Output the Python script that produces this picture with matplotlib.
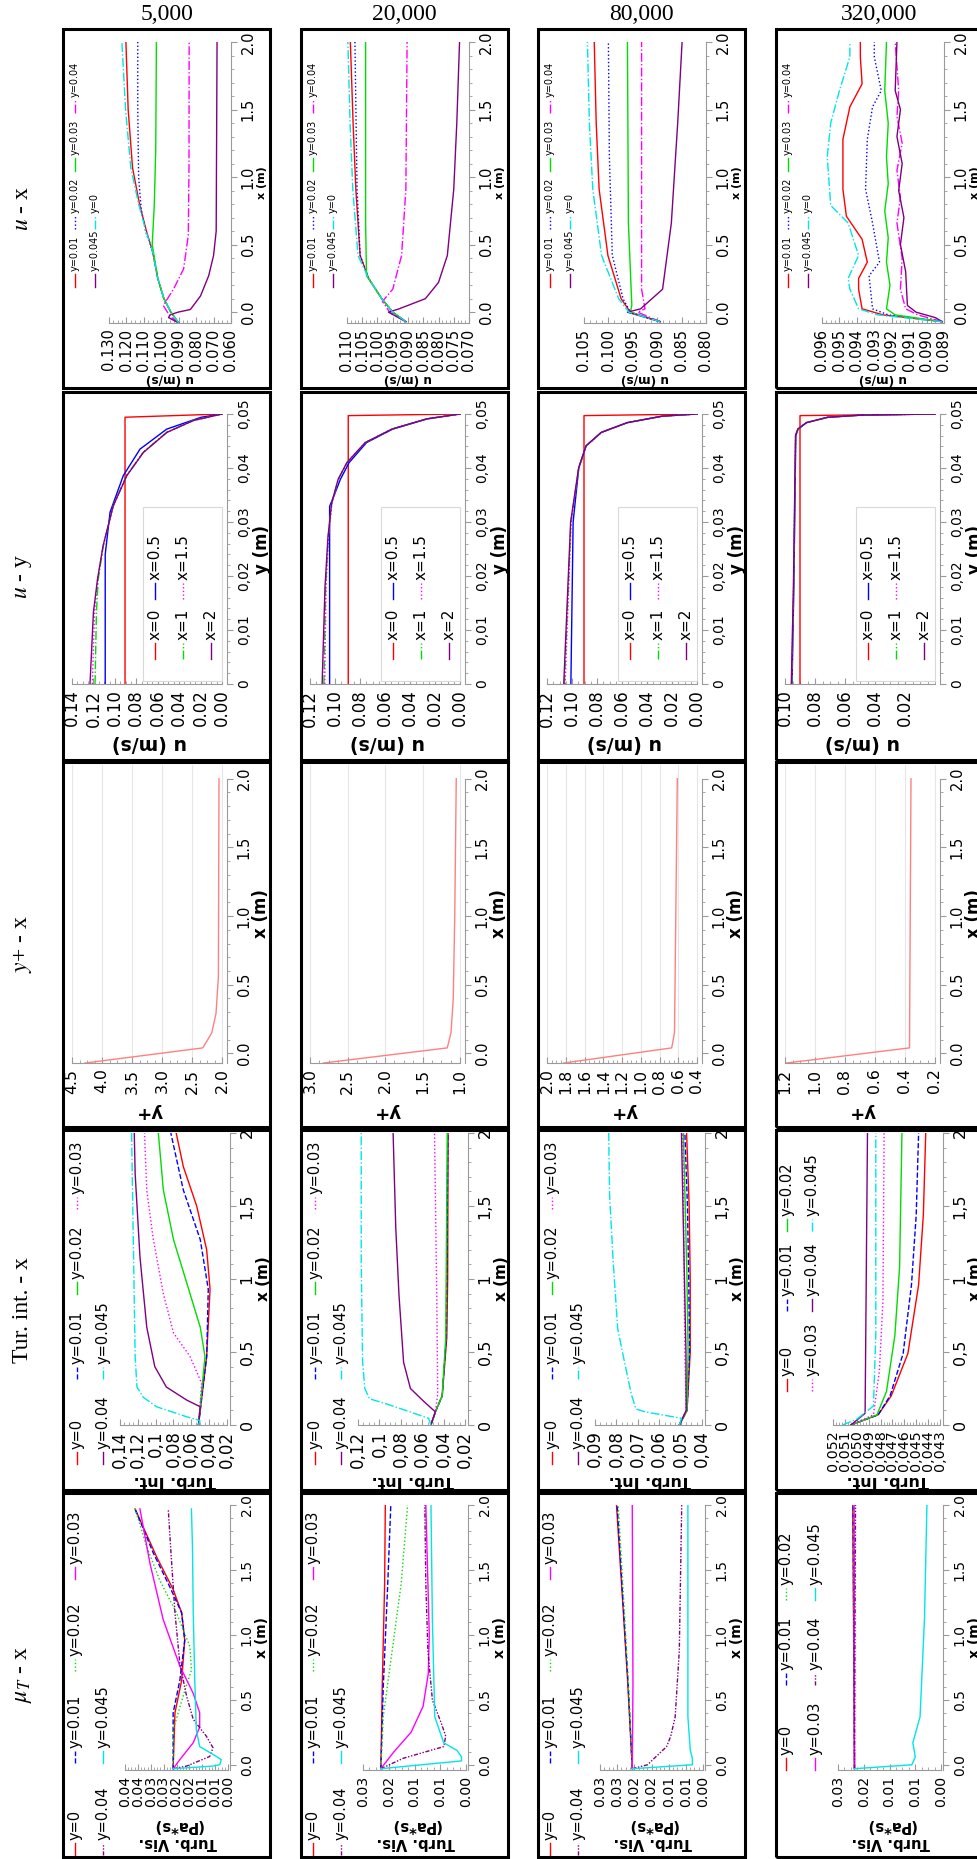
import numpy as np
import matplotlib
matplotlib.use("Agg")
import matplotlib.pyplot as plt
from matplotlib.lines import Line2D
from matplotlib.patches import Rectangle
from matplotlib.ticker import FixedLocator, MultipleLocator

plt.rcParams['mathtext.fontset'] = 'stix'
plt.rcParams['font.family'] = 'DejaVu Sans'

W, H = 977, 1859

# ---------------- DATA ----------------
RE_NUMBERS = ['5,000', '20,000', '80,000', '320,000']
ROW_TITLES = [r'$u$ - x', r'$u$ - y', r'$y$+ - x', 'Tur. int. - x', r'$\mu_T$ - x']

# u - x : (x [m], u [m/s]) at several heights y
UX_ORDER = ['y=0.01', 'y=0.02', 'y=0.03', 'y=0.04', 'y=0.045', 'y=0']
UX_5000 = {
    'y=0.01': [(-0.08, 0.090), (0.0, 0.0945), (0.1, 0.0985), (0.25, 0.102), (0.45, 0.105), (0.6, 0.1085),
               (0.8, 0.1125), (1.07, 0.1165), (1.5, 0.119), (2.0, 0.1203)],
    'y=0.02': [(-0.08, 0.090), (0.0, 0.0945), (0.1, 0.0985), (0.25, 0.102), (0.45, 0.105), (0.6, 0.109),
               (0.76, 0.1115), (1.0, 0.113), (1.5, 0.1135), (2.0, 0.1135)],
    'y=0.03': [(-0.08, 0.090), (0.0, 0.0945), (0.1, 0.0985), (0.25, 0.102), (0.5, 0.1052), (0.8, 0.104),
               (1.2, 0.1032), (2.0, 0.1028)],
    'y=0.04': [(-0.08, 0.090), (-0.03, 0.095), (0.05, 0.0989), (0.17, 0.093), (0.32, 0.0872), (0.57, 0.0845),
               (1.07, 0.0841), (2.0, 0.084)],
    'y=0.045': [(-0.08, 0.090), (-0.04, 0.0958), (-0.02, 0.095), (0.0, 0.0905), (0.02, 0.0833), (0.12, 0.0775),
                (0.27, 0.0728), (0.42, 0.070), (0.6, 0.0685), (2.0, 0.068)],
    'y=0': [(-0.08, 0.090), (0.0, 0.0945), (0.1, 0.0985), (0.25, 0.102), (0.45, 0.105), (0.6, 0.1088),
            (0.8, 0.113), (1.07, 0.1175), (1.5, 0.1205), (2.0, 0.1226)],
}
UX_20000 = {
    'y=0.01': [(-0.07, 0.0907), (0.0, 0.095), (0.1, 0.0986), (0.25, 0.1029), (0.42, 0.1057), (0.91, 0.1071),
               (1.4, 0.108), (2.0, 0.1089)],
    'y=0.02': [(-0.07, 0.0907), (0.0, 0.095), (0.1, 0.0986), (0.25, 0.1029), (0.42, 0.1057), (0.91, 0.1067),
               (2.0, 0.1074)],
    'y=0.03': [(-0.07, 0.0907), (0.0, 0.095), (0.1, 0.0986), (0.27, 0.1036), (0.66, 0.1039), (2.0, 0.1039)],
    'y=0.04': [(-0.07, 0.0907), (0.0, 0.096), (0.08, 0.0984), (0.17, 0.095), (0.42, 0.0921), (0.91, 0.0907),
               (2.0, 0.0903)],
    'y=0.045': [(-0.07, 0.0907), (0.0, 0.0964), (0.025, 0.0929), (0.1, 0.0843), (0.22, 0.080), (0.42, 0.0771),
                (0.91, 0.075), (1.4, 0.074), (2.0, 0.0731)],
    'y=0': [(-0.07, 0.0907), (0.0, 0.095), (0.1, 0.0986), (0.25, 0.1029), (0.42, 0.1064), (0.91, 0.1081),
            (1.4, 0.109), (2.0, 0.1097)],
}
UX_80000 = {
    'y=0.01': [(-0.07, 0.0894), (0.0, 0.0955), (0.1, 0.0974), (0.42, 0.1001), (0.91, 0.1019), (1.4, 0.1025),
               (2.0, 0.1029)],
    'y=0.02': [(-0.07, 0.0894), (0.0, 0.0955), (0.1, 0.097), (0.42, 0.0992), (1.15, 0.0998), (2.0, 0.100)],
    'y=0.03': [(-0.07, 0.0894), (0.0, 0.0955), (0.05, 0.0952), (0.66, 0.0959), (2.0, 0.0961)],
    'y=0.04': [(-0.07, 0.0894), (0.0, 0.094), (0.025, 0.0925), (0.17, 0.0932), (2.0, 0.0932)],
    'y=0.045': [(-0.07, 0.0894), (0.0, 0.0961), (0.025, 0.0934), (0.17, 0.0889), (0.66, 0.0871), (1.4, 0.0858),
                (2.0, 0.0849)],
    'y=0': [(-0.07, 0.0894), (0.0, 0.0958), (0.1, 0.0979), (0.42, 0.1014), (0.91, 0.1032), (1.4, 0.1039),
            (2.0, 0.1043)],
}
UX_320000 = {
    'y=0.01': [(-0.07, 0.0891), (-0.02, 0.0925), (0.025, 0.0937), (0.17, 0.0939), (0.25, 0.0939), (0.37, 0.0934),
               (0.54, 0.0937), (0.71, 0.0946), (0.91, 0.0948), (1.28, 0.0948), (1.52, 0.0944), (1.69, 0.0937),
               (1.89, 0.0938), (2.0, 0.0938)],
    'y=0.02': [(-0.07, 0.0891), (-0.02, 0.0922), (0.025, 0.0931), (0.27, 0.0933), (0.37, 0.0927), (0.66, 0.0931),
               (0.91, 0.0935), (1.28, 0.0934), (1.52, 0.0931), (1.64, 0.0926), (1.89, 0.093), (2.0, 0.093)],
    'y=0.03': [(-0.07, 0.0891), (-0.02, 0.0918), (0.025, 0.0923), (0.2, 0.0921), (0.37, 0.0923), (0.55, 0.0922),
               (0.75, 0.0924), (0.95, 0.0922), (1.15, 0.0923), (1.4, 0.0922), (1.64, 0.0924), (2.0, 0.0923)],
    'y=0.04': [(-0.07, 0.0891), (-0.02, 0.0905), (0.025, 0.0912), (0.17, 0.0915), (0.4, 0.0914), (0.66, 0.0917),
               (0.85, 0.0915), (1.05, 0.0917), (1.25, 0.0914), (1.45, 0.0917), (1.64, 0.0916), (2.0, 0.0918)],
    'y=0.045': [(-0.07, 0.0891), (-0.04, 0.0895), (0.0, 0.0906), (0.05, 0.0911), (0.3, 0.0912), (0.5, 0.0915),
                (0.7, 0.0913), (0.9, 0.0916), (1.1, 0.0914), (1.3, 0.0917), (1.5, 0.0915), (1.64, 0.0918),
                (2.0, 0.0917)],
    'y=0': [(-0.07, 0.0891), (-0.02, 0.0928), (0.025, 0.0939), (0.17, 0.0944), (0.25, 0.0945), (0.42, 0.0939),
            (0.66, 0.0945), (0.79, 0.0955), (1.15, 0.0957), (1.4, 0.0955), (1.64, 0.095), (1.89, 0.0944),
            (2.0, 0.0944)],
}
UX_PANELS = [UX_5000, UX_20000, UX_80000, UX_320000]
UX_VLIM = [(0.060, 0.130), (0.070, 0.110), (0.080, 0.105), (0.089, 0.096)]
UX_VSTEP = [0.010, 0.005, 0.005, 0.001]
UX_VLABELS = [['0.130', '0.120', '0.110', '0.100', '0.090', '0.080', '0.070', '0.060'],
              ['0.110', '0.105', '0.100', '0.095', '0.090', '0.085', '0.080', '0.075', '0.070'],
              ['0.105', '0.100', '0.095', '0.090', '0.085', '0.080'],
              ['0.096', '0.095', '0.094', '0.093', '0.092', '0.091', '0.090', '0.089']]

# u - y : (y [m], u [m/s]) at several stations x
UY_ORDER = ['x=0', 'x=0.5', 'x=1', 'x=1.5', 'x=2']
UY_5000 = {
    'x=0': [(0.0, 0.0905), (0.0494, 0.0905), (0.05, 0.0)],
    'x=0.5': [(0.0, 0.109), (0.024, 0.109), (0.0318, 0.1045), (0.0386, 0.0921), (0.0435, 0.0765),
              (0.0472, 0.0516), (0.0494, 0.0195), (0.05, 0.0)],
    'x=1': [(0.0, 0.1185), (0.0133, 0.1172), (0.0194, 0.1155), (0.0256, 0.1108), (0.033, 0.1015),
            (0.0386, 0.089), (0.0429, 0.0735), (0.0466, 0.0516), (0.0488, 0.0268), (0.05, 0.0)],
    'x=1.5': [(0.0, 0.121), (0.0133, 0.119), (0.0194, 0.116), (0.0256, 0.1108), (0.033, 0.1015),
              (0.0386, 0.089), (0.0429, 0.0735), (0.0466, 0.0516), (0.0488, 0.0268), (0.05, 0.0)],
    'x=2': [(0.0, 0.1232), (0.0133, 0.120), (0.0194, 0.1162), (0.0256, 0.111), (0.033, 0.1015),
            (0.0386, 0.0888), (0.0429, 0.0733), (0.0466, 0.0514), (0.0488, 0.0266), (0.05, 0.0)],
}
UY_20000 = {
    'x=0': [(0.0, 0.0894), (0.0497, 0.0894), (0.05, 0.0)],
    'x=0.5': [(0.0, 0.1043), (0.0329, 0.1043), (0.0348, 0.1009), (0.0379, 0.0957), (0.041, 0.0887),
              (0.0447, 0.0748), (0.0472, 0.0539), (0.0491, 0.0261), (0.05, 0.0)],
    'x=1': [(0.0, 0.1089), (0.018, 0.1075), (0.0273, 0.1054), (0.0335, 0.1026), (0.0379, 0.0974),
            (0.041, 0.0904), (0.0447, 0.0758), (0.0472, 0.0545), (0.0491, 0.0265), (0.05, 0.0)],
    'x=1.5': [(0.0, 0.1082), (0.018, 0.1072), (0.0273, 0.1052), (0.0335, 0.1025), (0.0379, 0.0973),
              (0.041, 0.0903), (0.0447, 0.0757), (0.0472, 0.0544), (0.0491, 0.0264), (0.05, 0.0)],
    'x=2': [(0.0, 0.1103), (0.018, 0.108), (0.0273, 0.1056), (0.0335, 0.1027), (0.0379, 0.0975),
            (0.041, 0.0905), (0.0447, 0.0759), (0.0472, 0.0546), (0.0491, 0.0266), (0.05, 0.0)],
}
UY_80000 = {
    'x=0': [(0.0, 0.0904), (0.0497, 0.0904), (0.05, 0.0)],
    'x=0.5': [(0.0, 0.1009), (0.03, 0.0991), (0.04, 0.0946), (0.0441, 0.0887), (0.0466, 0.0765),
              (0.0484, 0.0557), (0.0496, 0.0278), (0.05, 0.0)],
    'x=1': [(0.0, 0.1061), (0.03, 0.1009), (0.04, 0.0946), (0.0441, 0.0887), (0.0466, 0.0765),
            (0.0484, 0.0557), (0.0496, 0.0278), (0.05, 0.0)],
    'x=1.5': [(0.0, 0.1055), (0.03, 0.1007), (0.04, 0.0945), (0.0441, 0.0886), (0.0466, 0.0764),
              (0.0484, 0.0556), (0.0496, 0.0277), (0.05, 0.0)],
    'x=2': [(0.0, 0.1066), (0.03, 0.1011), (0.04, 0.0947), (0.0441, 0.0888), (0.0466, 0.0766),
            (0.0484, 0.0558), (0.0496, 0.0279), (0.05, 0.0)],
}
UY_320000 = {
    'x=0': [(0.0, 0.090), (0.0497, 0.090), (0.05, 0.0)],
    'x=0.5': [(0.0, 0.0953), (0.018, 0.0941), (0.046, 0.0928), (0.0472, 0.0913), (0.0484, 0.0856),
              (0.0494, 0.0713), (0.0498, 0.0485), (0.05, 0.0)],
    'x=1': [(0.0, 0.0955), (0.018, 0.0942), (0.046, 0.0929), (0.0472, 0.0914), (0.0484, 0.0857),
            (0.0494, 0.0714), (0.0498, 0.0486), (0.05, 0.0)],
    'x=1.5': [(0.0, 0.0956), (0.018, 0.0943), (0.046, 0.0929), (0.0472, 0.0914), (0.0484, 0.0857),
              (0.0494, 0.0714), (0.0498, 0.0486), (0.05, 0.0)],
    'x=2': [(0.0, 0.0958), (0.018, 0.0944), (0.046, 0.0930), (0.0472, 0.0915), (0.0484, 0.0858),
            (0.0494, 0.0715), (0.0498, 0.0487), (0.05, 0.0)],
}
UY_PANELS = [UY_5000, UY_20000, UY_80000, UY_320000]
UY_VLIM = [(0.0, 0.14), (0.0, 0.12), (0.0, 0.12), (0.0, 0.10)]
UY_VSTEP = [0.02, 0.02, 0.02, 0.02]
UY_VLABELS = [['0.14', '0.12', '0.10', '0.08', '0.06', '0.04', '0.02', '0.00'],
              ['0.12', '0.10', '0.08', '0.06', '0.04', '0.02', '0.00'],
              ['0.12', '0.10', '0.08', '0.06', '0.04', '0.02', '0.00'],
              ['0.10', '0.08', '0.06', '0.04', '0.02']]

# y+ - x : (x [m], y+)
YP_ORDER = ['y+']
YP_5000 = {'y+': [(-0.07, 4.28), (0.04, 2.32), (0.15, 2.17), (0.29, 2.10), (0.56, 2.06), (2.0, 2.05)]}
YP_20000 = {'y+': [(-0.07, 2.82), (0.04, 1.17), (0.15, 1.12), (0.4, 1.09), (1.0, 1.07), (2.0, 1.05)]}
YP_80000 = {'y+': [(-0.07, 1.82), (0.04, 0.67), (0.15, 0.64), (2.0, 0.61)]}
YP_320000 = {'y+': [(-0.07, 1.19), (0.04, 0.37), (2.0, 0.36)]}
YP_PANELS = [YP_5000, YP_20000, YP_80000, YP_320000]
YP_VLIM = [(2.0, 4.5), (1.0, 3.0), (0.4, 2.0), (0.2, 1.2)]
YP_VSTEP = [0.5, 0.5, 0.2, 0.2]
YP_VLABELS = [['4.5', '4.0', '3.5', '3.0', '2.5', '2.0'],
              ['3.0', '2.5', '2.0', '1.5', '1.0'],
              ['2.0', '1.8', '1.6', '1.4', '1.2', '1.0', '0.8', '0.6', '0.4'],
              ['1.2', '1.0', '0.8', '0.6', '0.4', '0.2']]

# Turbulence intensity - x : (x [m], Turb. Int.)
TI_ORDER = ['y=0', 'y=0.01', 'y=0.02', 'y=0.03', 'y=0.04', 'y=0.045']
TI_5000 = {
    'y=0': [(0.0, 0.052), (0.47, 0.0428), (0.93, 0.039), (1.2, 0.0428), (1.5, 0.054), (1.77, 0.069), (2.0, 0.077)],
    'y=0.01': [(0.0, 0.052), (0.47, 0.0428), (0.93, 0.041), (1.27, 0.050), (1.61, 0.069), (2.0, 0.083)],
    'y=0.02': [(0.0, 0.052), (0.47, 0.0447), (0.67, 0.050), (0.97, 0.065), (1.27, 0.080), (1.61, 0.0914),
               (2.0, 0.097)],
    'y=0.03': [(0.0, 0.052), (0.285, 0.0484), (0.47, 0.0615), (0.63, 0.080), (0.9, 0.0914), (1.27, 0.1026),
               (1.61, 0.110), (2.0, 0.1125)],
    'y=0.04': [(0.0, 0.052), (0.125, 0.050), (0.17, 0.065), (0.26, 0.088), (0.40, 0.101), (0.67, 0.110),
               (1.15, 0.1176), (1.72, 0.123), (2.0, 0.124)],
    'y=0.045': [(0.0, 0.052), (0.03, 0.0503), (0.057, 0.0655), (0.125, 0.099), (0.19, 0.114), (0.26, 0.121),
                (0.47, 0.123), (2.0, 0.127)],
}
TI_20000 = {
    'y=0': [(0.0, 0.0519), (0.09, 0.0477), (0.2, 0.0413), (0.6, 0.037), (1.0, 0.0362), (2.0, 0.0358)],
    'y=0.01': [(0.0, 0.0519), (0.09, 0.0477), (0.2, 0.0413), (0.6, 0.0375), (2.0, 0.036)],
    'y=0.02': [(0.0, 0.0519), (0.09, 0.0477), (0.2, 0.0413), (0.6, 0.038), (2.0, 0.0366)],
    'y=0.03': [(0.0, 0.0519), (0.09, 0.0477), (0.21, 0.0455), (0.89, 0.0464), (2.0, 0.0485)],
    'y=0.04': [(0.0, 0.0519), (0.09, 0.0477), (0.16, 0.0583), (0.25, 0.071), (0.43, 0.0774), (0.89, 0.0817),
               (1.35, 0.0847), (2.0, 0.0872)],
    'y=0.045': [(0.0, 0.0519), (0.046, 0.054), (0.137, 0.0902), (0.18, 0.1094), (0.25, 0.1136), (0.43, 0.1157),
                (1.12, 0.117), (2.0, 0.117)],
}
TI_80000 = {
    'y=0': [(0.0, 0.0506), (0.1, 0.047), (0.5, 0.0455), (1.0, 0.0455), (1.5, 0.046), (2.0, 0.0472)],
    'y=0.01': [(0.0, 0.0506), (0.1, 0.047), (0.5, 0.0458), (1.0, 0.0462), (1.5, 0.0468), (2.0, 0.048)],
    'y=0.02': [(0.0, 0.0506), (0.1, 0.047), (0.5, 0.0465), (1.0, 0.047), (2.0, 0.0487)],
    'y=0.03': [(0.0, 0.0506), (0.1, 0.0474), (0.5, 0.048), (2.0, 0.049)],
    'y=0.04': [(0.0, 0.0506), (0.1, 0.0474), (0.5, 0.0475), (2.0, 0.0496)],
    'y=0.045': [(0.0, 0.0506), (0.046, 0.0496), (0.09, 0.0666), (0.11, 0.0709), (0.21, 0.073), (0.43, 0.0762),
                (0.66, 0.0794), (1.12, 0.0815), (1.58, 0.0832), (2.0, 0.0836)],
}
TI_320000 = {
    'y=0': [(0.0, 0.0505), (0.07, 0.0482), (0.2, 0.0471), (0.49, 0.0457), (0.96, 0.0448), (1.44, 0.0444),
            (2.0, 0.0442)],
    'y=0.01': [(0.0, 0.0505), (0.07, 0.0482), (0.2, 0.0472), (0.49, 0.0461), (0.96, 0.0454), (1.44, 0.045),
               (2.0, 0.0448)],
    'y=0.02': [(0.0, 0.0505), (0.07, 0.0483), (0.23, 0.0475), (0.61, 0.0468), (1.08, 0.0464), (2.0, 0.0462)],
    'y=0.03': [(0.0, 0.0505), (0.07, 0.0486), (0.37, 0.0481), (0.85, 0.0478), (2.0, 0.0477)],
    'y=0.04': [(0.0, 0.0505), (0.08, 0.0493), (2.0, 0.0491)],
    'y=0.045': [(0.0, 0.0512), (0.04, 0.050), (0.13, 0.0486), (0.61, 0.0484), (2.0, 0.0484)],
}
TI_PANELS = [TI_5000, TI_20000, TI_80000, TI_320000]
TI_VLIM = [(0.02, 0.14), (0.02, 0.12), (0.04, 0.09), (0.043, 0.052)]
TI_VSTEP = [0.02, 0.02, 0.01, 0.001]
TI_VLABELS = [['0,14', '0,12', '0,1', '0,08', '0,06', '0,04', '0,02'],
              ['0,12', '0,1', '0,08', '0,06', '0,04', '0,02'],
              ['0,09', '0,08', '0,07', '0,06', '0,05', '0,04'],
              ['0,052', '0,051', '0,050', '0,049', '0,048', '0,047', '0,046', '0,045', '0,044', '0,043']]

# Turbulent viscosity - x : (x [m], mu_T [Pa*s])
MT_ORDER = ['y=0', 'y=0.01', 'y=0.02', 'y=0.03', 'y=0.04', 'y=0.045']
MT_5000 = {
    'y=0': [(-0.03, 0.0213), (0.4, 0.0206), (0.65, 0.018), (0.96, 0.0168), (1.17, 0.018), (1.35, 0.0213),
            (1.6, 0.0277), (1.97, 0.0361)],
    'y=0.01': [(-0.03, 0.0213), (0.4, 0.0213), (0.65, 0.0187), (0.96, 0.0168), (1.17, 0.018), (1.37, 0.0226),
               (1.63, 0.029), (1.97, 0.0361)],
    'y=0.02': [(-0.03, 0.0213), (0.27, 0.0213), (0.53, 0.0174), (0.73, 0.0142), (0.91, 0.0148), (1.17, 0.020),
               (1.42, 0.0265), (1.68, 0.0316), (1.97, 0.0361)],
    'y=0.03': [(-0.03, 0.0213), (0.04, 0.0187), (0.17, 0.0135), (0.29, 0.011), (0.4, 0.011), (0.55, 0.0135),
               (0.76, 0.0187), (1.12, 0.0252), (1.55, 0.0303), (1.97, 0.0342)],
    'y=0.04': [(-0.03, 0.0213), (-0.01, 0.0161), (0.064, 0.0071), (0.13, 0.0058), (0.22, 0.0084),
               (0.35, 0.0135), (0.53, 0.0161), (0.78, 0.0187), (1.17, 0.0206), (1.68, 0.0223), (1.97, 0.0232)],
    'y=0.045': [(-0.03, 0.0213), (-0.01, 0.006), (0.0, 0.0032), (0.04, 0.0026), (0.08, 0.0058), (0.14, 0.011),
                (0.27, 0.0123), (0.65, 0.0129), (1.17, 0.0135), (1.68, 0.0138), (1.97, 0.0142)],
}
MT_20000 = {
    'y=0': [(-0.03, 0.0248), (0.6, 0.0244), (1.39, 0.0237), (2.0, 0.0235)],
    'y=0.01': [(-0.03, 0.0248), (0.6, 0.0241), (1.39, 0.0228), (2.0, 0.0219)],
    'y=0.02': [(-0.03, 0.0248), (0.37, 0.0241), (0.88, 0.0215), (1.39, 0.0189), (2.0, 0.017)],
    'y=0.03': [(-0.03, 0.0248), (0.1, 0.021), (0.25, 0.016), (0.45, 0.0125), (0.7, 0.011), (1.0, 0.0107),
               (2.0, 0.0117)],
    'y=0.04': [(-0.03, 0.0248), (0.05, 0.0183), (0.14, 0.0065), (0.22, 0.0059), (0.32, 0.0072), (0.5, 0.0098),
               (0.88, 0.0111), (1.39, 0.0117), (2.0, 0.012)],
    'y=0.045': [(-0.03, 0.0248), (0.03, 0.0013), (0.06, 0.0013), (0.11, 0.0026), (0.17, 0.0065),
                (0.37, 0.0091), (1.13, 0.0098), (2.0, 0.0102)],
}
MT_80000 = {
    'y=0': [(-0.03, 0.0206), (0.62, 0.0219), (1.13, 0.0231), (2.0, 0.0252)],
    'y=0.01': [(-0.03, 0.0206), (0.62, 0.0218), (1.13, 0.023), (2.0, 0.025)],
    'y=0.02': [(-0.03, 0.0206), (0.62, 0.0217), (1.13, 0.0228), (2.0, 0.0247)],
    'y=0.03': [(-0.03, 0.0206), (0.62, 0.0204), (2.0, 0.0206)],
    'y=0.04': [(-0.03, 0.0206), (0.0, 0.0162), (0.14, 0.0106), (0.22, 0.0094), (0.37, 0.0081), (0.88, 0.0069),
               (2.0, 0.0062)],
    'y=0.045': [(-0.03, 0.0206), (0.0, 0.0031), (0.05, 0.0031), (0.11, 0.0037), (0.37, 0.0044), (2.0, 0.0044)],
}
MT_320000 = {
    'y=0': [(-0.03, 0.0252), (2.0, 0.0257)],
    'y=0.01': [(-0.03, 0.0252), (2.0, 0.0256)],
    'y=0.02': [(-0.03, 0.0252), (2.0, 0.0255)],
    'y=0.03': [(-0.03, 0.0252), (2.0, 0.0253)],
    'y=0.04': [(-0.03, 0.0252), (2.0, 0.0249)],
    'y=0.045': [(-0.03, 0.0252), (0.0, 0.0085), (0.06, 0.0075), (0.17, 0.0082), (0.37, 0.0061), (1.13, 0.0048),
                (2.0, 0.0041)],
}
MT_PANELS = [MT_5000, MT_20000, MT_80000, MT_320000]
MT_VLIM = [(0.0, 0.04), (0.0, 0.03), (0.0, 0.03), (0.0, 0.03)]
MT_VSTEP = [0.005, 0.0075, 0.005, 0.0075]
MT_VLABELS = [['0.04', '0.04', '0.03', '0.03', '0.02', '0.02', '0.01', '0.01', '0.00'],
              ['0.03', '0.02', '0.01', '0.01', '0.00'],
              ['0.03', '0.03', '0.02', '0.02', '0.01', '0.01', '0.00'],
              ['0.03', '0.02', '0.01', '0.01', '0.00']]

# ---------------- STYLE / LAYOUT ----------------
GREY = '#9a9a9a'
RED, BLUE, GREEN, MAGENTA, PURPLE, CYAN = '#ff0000', '#0000ff', '#00dd00', '#ff00ff', '#800080', '#00e5e5'
DASHDOTDOT = (0, (3, 1.2, 1, 1.2, 1, 1.2))

UX_STYLE = {'y=0.01': (RED, '-'), 'y=0.02': (BLUE, ':'), 'y=0.03': (GREEN, '-'),
            'y=0.04': (MAGENTA, '-.'), 'y=0.045': (PURPLE, '-'), 'y=0': (CYAN, '-.')}
UY_STYLE = {'x=0': (RED, '-'), 'x=0.5': (BLUE, '-'), 'x=1': (GREEN, '-.'),
            'x=1.5': (MAGENTA, ':'), 'x=2': (PURPLE, '-')}
YP_STYLE = {'y+': ('#ff8080', '-')}
TI_STYLE = {'y=0': (RED, '-'), 'y=0.01': (BLUE, '--'), 'y=0.02': (GREEN, '-'),
            'y=0.03': (MAGENTA, ':'), 'y=0.04': (PURPLE, '-'), 'y=0.045': (CYAN, '-.')}
MT_STYLE = {'y=0': (RED, '-'), 'y=0.01': (BLUE, '--'), 'y=0.02': (GREEN, ':'),
            'y=0.03': (MAGENTA, '-'), 'y=0.04': (PURPLE, DASHDOTDOT), 'y=0.045': (CYAN, '-')}

COL_LEFT = [63, 301, 538, 776]
COL_W = 207
ROW_TOP = [29, 392, 762, 1130, 1493]
ROW_BOT = [388, 760, 1127, 1490, 1857]

# tick-label size of single panels that differ from their row
VT_FS_PANEL = {(3, 3): 10.3}

X_TICKS = [0, 0.5, 1.0, 1.5, 2.0]
ROW_SPEC = [
    dict(box=(46, 168, 13, 294), gap=0, ylim=(-0.08, 2.0), ybound=(-0.08, 2.0), yticks=X_TICKS,
         ylabels=['0.0', '0.5', '1.0', '1.5', '2.0'], yminor=0.1, yname='x (m)', vname='u (m/s)',
         yname_x=199, vname_y=350, vt_fs=10.5, yt_fs=10.5, yname_fs=8, vname_fs=8.7, grid=False,
         legend=dict(x0=12, dx=20, y0=258, dy=58, L=13, fs=7, ncol=4)),
    dict(box=(9, 164, 22, 292), gap=5, ylim=(0, 0.05), ybound=(0, 0.05),
         yticks=[0, 0.01, 0.02, 0.03, 0.04, 0.05], ylabels=['0', '0,01', '0,02', '0,03', '0,04', '0,05'],
         yminor=0.002, yname='y (m)', vname='u (m/s)', yname_x=199, vname_y=352, vt_fs=12, yt_fs=10,
         yname_fs=12, vname_fs=13.6, grid=False,
         legend=dict(x0=92, dx=28, y0=267, dy=60, L=16, fs=11, ncol=2, frame=(80, 115, 159, 289))),
    dict(box=(9, 164, 3, 301), gap=5, ylim=(-0.07, 2.1), ybound=(-0.07, 2.0), yticks=X_TICKS,
         ylabels=['0.0', '0.5', '1.0', '1.5', '2.0'], yminor=0.1, yname='x (m)', vname='y+',
         yname_x=198, vname_y=350, vt_fs=11.3, yt_fs=10.5, yname_fs=12, vname_fs=13, grid=True, legend=None),
    dict(box=(57, 167, 3, 295), gap=3, ylim=(0, 2.0), ybound=(0, 2.0), yticks=X_TICKS,
         ylabels=['0', '0,5', '1', '1,5', '2'], yminor=0.1, yname='x (m)', vname='Turb. Int.',
         yname_x=200, vname_y=350, vt_fs=12, yt_fs=11.5, yname_fs=11, vname_fs=11.4, grid=False,
         legend=dict(x0=14, dx=26, y0=334, dy=85, L=12, fs=10.5, ncol=4),
         legend_last=dict(x0=11, dx=25, y0=261, dy=80, L=12, fs=10.5, ncol=3)),
    dict(box=(62, 167, 12, 277), gap=2, ylim=(-0.04, 2.0), ybound=(-0.04, 2.0), yticks=X_TICKS,
         ylabels=['0.0', '0.5', '1.0', '1.5', '2.0'], yminor=0.1, yname='x (m)', vname='Turb. Vis.\n(Pa*s)',
         yname_x=199, vname_y=341, vt_fs=10.2, yt_fs=10, yname_fs=10, vname_fs=10.6, grid=False,
         legend=dict(x0=12, dx=28, y0=362, dy=92, L=12, fs=10.5, ncol=4),
         legend_last=dict(x0=10, dx=29, y0=277, dy=85, L=12, fs=10.5, ncol=3)),
]

ROWS = [
    (UX_PANELS, UX_ORDER, UX_STYLE, UX_VLIM, UX_VSTEP, UX_VLABELS),
    (UY_PANELS, UY_ORDER, UY_STYLE, UY_VLIM, UY_VSTEP, UY_VLABELS),
    (YP_PANELS, YP_ORDER, YP_STYLE, YP_VLIM, YP_VSTEP, YP_VLABELS),
    (TI_PANELS, TI_ORDER, TI_STYLE, TI_VLIM, TI_VSTEP, TI_VLABELS),
    (MT_PANELS, MT_ORDER, MT_STYLE, MT_VLIM, MT_VSTEP, MT_VLABELS),
]

fig = plt.figure(figsize=(W / 100, H / 100), dpi=100)


def fxy(x, y):
    # pixel position (from top-left) -> figure fraction
    return x / W, 1 - y / H


def draw_legend(left, top, lg, order, styles):
    if 'frame' in lg:
        l, t, r, b = lg['frame']
        x0f, y0f = fxy(left + l, top + b)
        fig.add_artist(Rectangle((x0f, y0f), (r - l) / W, (b - t) / H, transform=fig.transFigure,
                                 facecolor='white', edgecolor='#d9d9d9', lw=0.8, zorder=4))
    for i, name in enumerate(order):
        r, c = divmod(i, lg['ncol'])
        x = left + lg['x0'] + r * lg['dx']
        yb = top + lg['y0'] - c * lg['dy']
        color, ls = styles[name]
        xf, yf0 = fxy(x, yb)
        _, yf1 = fxy(x, yb - lg['L'])
        fig.add_artist(Line2D([xf, xf], [yf0, yf1], transform=fig.transFigure,
                              color=color, ls=ls, lw=1.0, zorder=6))
        fig.text(*fxy(x, yb - lg['L'] - 3), name, rotation=90, ha='center', va='bottom',
                 fontsize=lg['fs'], zorder=6)


def draw_panel(row, col):
    panels, order, styles, vlims, vsteps, vlabels = ROWS[row]
    spec = ROW_SPEC[row]
    left, top = COL_LEFT[col], ROW_TOP[row]
    L, R, T, B = spec['box']

    # panel frame
    fx, fy = fxy(left, ROW_BOT[row])
    fig.add_artist(Rectangle((fx, fy), COL_W / W, (ROW_BOT[row] - top) / H, transform=fig.transFigure,
                             fill=False, edgecolor='black', lw=2.2, zorder=20))

    ax = fig.add_axes([(left + L) / W, 1 - (top + B) / H, (R - L) / W, (B - T) / H])
    ax.patch.set_alpha(0)

    # the original plot is turned 90 degrees: x runs upwards, the value runs right-to-left
    curves = panels[col]
    for name in order:
        pts = curves[name]
        xs = [p[0] for p in pts]
        vs = [p[1] for p in pts]
        color, ls = styles[name]
        ax.plot(vs, xs, color=color, ls=ls, lw=1.0)

    lo, hi = vlims[col]
    gap = spec['gap']
    lo_ext = lo - (hi - lo) * gap / (R - gap - L)
    ax.set_xlim(hi, lo_ext)
    ax.set_ylim(*spec['ylim'])

    for s in ('top', 'left'):
        ax.spines[s].set_visible(False)
    for s in ('right', 'bottom'):
        ax.spines[s].set_color(GREY)
        ax.spines[s].set_linewidth(0.8)
    ax.spines['bottom'].set_bounds(lo, hi)
    ax.spines['right'].set_bounds(*spec['ybound'])

    step = vsteps[col]
    vt = [hi - i * step for i in range(len(vlabels[col]))]
    ax.set_xticks(vt)
    ax.set_xticklabels(vlabels[col], rotation=90, fontsize=VT_FS_PANEL.get((row, col), spec['vt_fs']))
    ax.xaxis.set_minor_locator(MultipleLocator(step / 4))

    ax.yaxis.tick_right()
    ax.set_yticks(spec['yticks'])
    ax.set_yticklabels(spec['ylabels'], rotation=90, fontsize=spec['yt_fs'], va='center')
    ax.yaxis.set_minor_locator(FixedLocator(np.arange(spec['yticks'][0], spec['yticks'][-1] + 1e-9,
                                                      spec['yminor'])))
    ax.tick_params(axis='x', which='both', direction='in', color=GREY, pad=4)
    ax.tick_params(axis='x', which='major', length=4)
    ax.tick_params(axis='x', which='minor', length=2)
    ax.tick_params(axis='y', which='both', direction='out', color=GREY, pad=3)
    ax.tick_params(axis='y', which='major', length=4)
    ax.tick_params(axis='y', which='minor', length=2)

    if spec['grid']:
        ax.grid(axis='x', which='major', color='#e6e6e6', lw=0.8)
        ax.set_axisbelow(True)

    # axis names: the original y-label ends up upside down below the plot
    ax.yaxis.set_label_position('right')
    ax.set_ylabel(spec['yname'], fontsize=spec['yname_fs'], fontweight='bold')
    lab = ax.yaxis.label
    lab.set_rotation(90)
    lab.set_rotation_mode('default')
    lab.set_va('center')
    lab.set_ha('center')
    ax.yaxis.set_label_coords(*fxy(left + spec['yname_x'], top + (T + B) / 2), transform=fig.transFigure)

    ax.set_xlabel(spec['vname'], fontsize=spec['vname_fs'], fontweight='bold', rotation=180,
                  multialignment='center')
    ax.xaxis.label.set_va('center')
    ax.xaxis.set_label_coords(*fxy(left + (L + R) / 2, top + spec['vname_y']), transform=fig.transFigure)

    lg = spec['legend']
    if lg is not None:
        if col == 3 and 'legend_last' in spec:
            lg = spec['legend_last']
        draw_legend(left, top, lg, order, styles)


for row in range(5):
    for col in range(4):
        draw_panel(row, col)

for col, txt in enumerate(RE_NUMBERS):
    fig.text(*fxy(COL_LEFT[col] + COL_W / 2, 15), txt, ha='center', va='center',
             fontsize=17, family='Liberation Serif')

for row, txt in enumerate(ROW_TITLES):
    fig.text(*fxy(23, (ROW_TOP[row] + ROW_BOT[row]) / 2), txt, rotation=90, ha='center', va='center',
             fontsize=17, family='Liberation Serif')

fig.savefig('out.png', dpi=100)
